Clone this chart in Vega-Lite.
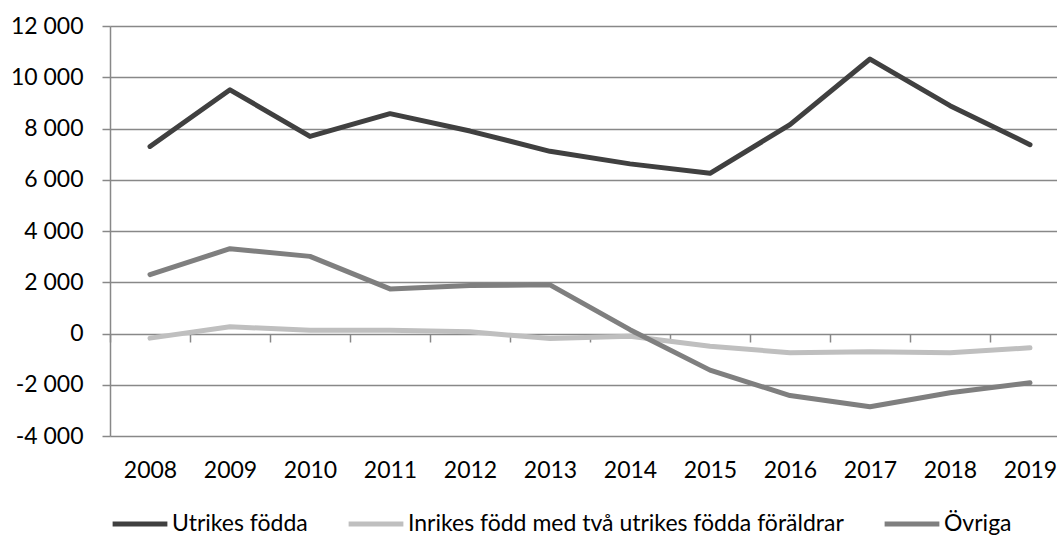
{
  "$schema": "https://vega.github.io/schema/vega-lite/v6.json",
  "width": 947,
  "height": 410,
  "autosize": {"type": "none"},
  "padding": {"left": 110, "top": 26, "right": 0, "bottom": 103},
  "background": "white",
  "config": {"font": "Lato", "view": {"stroke": null}},
  "data": {
    "values": [
      {"year": "2008", "series": "Utrikes födda", "value": 7300},
      {"year": "2009", "series": "Utrikes födda", "value": 9510},
      {"year": "2010", "series": "Utrikes födda", "value": 7690},
      {"year": "2011", "series": "Utrikes födda", "value": 8580},
      {"year": "2012", "series": "Utrikes födda", "value": 7900},
      {"year": "2013", "series": "Utrikes födda", "value": 7110},
      {"year": "2014", "series": "Utrikes födda", "value": 6620},
      {"year": "2015", "series": "Utrikes födda", "value": 6250},
      {"year": "2016", "series": "Utrikes födda", "value": 8150},
      {"year": "2017", "series": "Utrikes födda", "value": 10710},
      {"year": "2018", "series": "Utrikes födda", "value": 8890},
      {"year": "2019", "series": "Utrikes födda", "value": 7370},
      {"year": "2008", "series": "Inrikes född med två utrikes födda föräldrar", "value": -180},
      {"year": "2009", "series": "Inrikes född med två utrikes födda föräldrar", "value": 260},
      {"year": "2010", "series": "Inrikes född med två utrikes födda föräldrar", "value": 130},
      {"year": "2011", "series": "Inrikes född med två utrikes födda föräldrar", "value": 130},
      {"year": "2012", "series": "Inrikes född med två utrikes födda föräldrar", "value": 65},
      {"year": "2013", "series": "Inrikes född med två utrikes födda föräldrar", "value": -195},
      {"year": "2014", "series": "Inrikes född med två utrikes födda föräldrar", "value": -105},
      {"year": "2015", "series": "Inrikes född med två utrikes födda föräldrar", "value": -495},
      {"year": "2016", "series": "Inrikes född med två utrikes födda föräldrar", "value": -750},
      {"year": "2017", "series": "Inrikes född med två utrikes födda föräldrar", "value": -715},
      {"year": "2018", "series": "Inrikes född med två utrikes födda föräldrar", "value": -750},
      {"year": "2019", "series": "Inrikes född med två utrikes födda föräldrar", "value": -560},
      {"year": "2008", "series": "Övriga", "value": 2300},
      {"year": "2009", "series": "Övriga", "value": 3310},
      {"year": "2010", "series": "Övriga", "value": 3010},
      {"year": "2011", "series": "Övriga", "value": 1740},
      {"year": "2012", "series": "Övriga", "value": 1870},
      {"year": "2013", "series": "Övriga", "value": 1900},
      {"year": "2014", "series": "Övriga", "value": 150},
      {"year": "2015", "series": "Övriga", "value": -1430},
      {"year": "2016", "series": "Övriga", "value": -2420},
      {"year": "2017", "series": "Övriga", "value": -2860},
      {"year": "2018", "series": "Övriga", "value": -2310},
      {"year": "2019", "series": "Övriga", "value": -1920}
    ]
  },
  "mark": {"type": "line", "strokeWidth": 5, "strokeCap": "round", "strokeJoin": "round"},
  "encoding": {
    "x": {
      "field": "year",
      "type": "ordinal",
      "bandPosition": 0.5,
      "scale": {"type": "band", "range": [0, 960], "paddingInner": 0, "paddingOuter": 0},
      "axis": {
        "title": null,
        "offset": -102,
        "tickBand": "extent",
        "tickSize": 8,
        "tickColor": "#888888",
        "tickWidth": 1.5,
        "domain": false,
        "grid": false,
        "labelAngle": 0,
        "labelFontSize": 23,
        "labelColor": "#000000",
        "labelPadding": 117,
        "labelBaseline": "top"
      }
    },
    "y": {
      "field": "value",
      "type": "quantitative",
      "scale": {"domain": [-4000, 12000], "nice": false, "zero": false},
      "axis": {
        "title": null,
        "values": [-4000, -2000, 0, 2000, 4000, 6000, 8000, 10000, 12000],
        "grid": true,
        "gridColor": "#888888",
        "gridWidth": 1.5,
        "domainColor": "#888888",
        "domainWidth": 1.5,
        "tickColor": "#888888",
        "tickWidth": 1.5,
        "tickSize": 8,
        "labelFontSize": 23,
        "labelColor": "#000000",
        "labelPadding": 19,
        "labelExpr": "(datum.value < 0 ? '-' : '') + replace(format(abs(datum.value), ','), ',', ' ')"
      }
    },
    "color": {
      "field": "series",
      "type": "nominal",
      "scale": {
        "domain": ["Utrikes födda", "Inrikes född med två utrikes födda föräldrar", "Övriga"],
        "range": ["#404040", "#bfbfbf", "#7f7f7f"]
      },
      "legend": {
        "title": null,
        "orient": "bottom",
        "direction": "horizontal",
        "symbolType": "stroke",
        "symbolSize": 3000,
        "symbolStrokeWidth": 5,
        "labelFontSize": 23,
        "labelColor": "#000000",
        "labelOffset": 2,
        "columnPadding": 30,
        "offset": 12,
        "labelLimit": 600
      }
    }
  }
}
